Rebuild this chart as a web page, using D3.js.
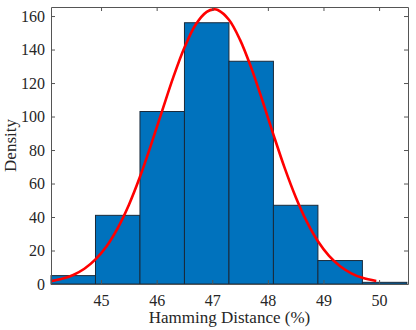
<!DOCTYPE html>
<html>
<head>
<meta charset="utf-8">
<script src="https://cdn.jsdelivr.net/npm/d3@7"></script>
<style>
  body { margin: 0; background: #fff; }
  svg text { font-family: "Liberation Serif", "DejaVu Serif", serif; fill: #262626; }
</style>
</head>
<body>
<div id="chart"></div>
<script>
// Histogram bins (edges) and densities
const binEdges = [44.1, 44.9, 45.7, 46.5, 47.3, 48.1, 48.9, 49.7, 50.5];
const binValues = [5, 41, 103, 156, 133, 47, 14, 1];

// Fitted curve
const curveX = [44.1, 44.3, 44.5, 44.7, 44.9, 45.1, 45.3, 45.5, 45.7, 45.9, 46.1, 46.3, 46.5, 46.7, 46.9, 47.03,
  47.1, 47.3, 47.5, 47.7, 47.9, 48.1, 48.3, 48.5, 48.7, 48.9, 49.1, 49.3, 49.5, 49.7, 49.95];
const curveY = [1.7, 3.1, 5.4, 9.1, 14.7, 22.6, 33.4, 47.2, 64.0, 83.2, 103.5, 123.5, 141.2, 154.8, 162.5, 164,
  163.6, 157.8, 145.8, 129.2, 109.7, 89.2, 69.5, 52.0, 37.2, 25.5, 16.8, 10.6, 6.4, 3.7, 1.8];

const xTicks = [45, 46, 47, 48, 49, 50];
const yTicks = [0, 20, 40, 60, 80, 100, 120, 140, 160];

const W = 416, H = 330;
const margin = { top: 7, right: 8, bottom: 46, left: 51 };
const width = W - margin.left - margin.right;
const height = H - margin.top - margin.bottom;

const svg = d3.select("#chart")
  .append("svg")
  .attr("width", W)
  .attr("height", H);

const g = svg.append("g")
  .attr("transform", `translate(${margin.left},${margin.top})`);

const x = d3.scaleLinear().domain([44.1, 50.52]).range([0, width]);
const y = d3.scaleLinear().domain([0, 165.4]).range([height, 0]);

const bins = binValues.map((v, i) => ({ x0: binEdges[i], x1: binEdges[i + 1], v }));

// Bars
g.selectAll(".bar")
  .data(bins)
  .enter()
  .append("rect")
  .attr("class", "bar")
  .attr("x", d => x(d.x0))
  .attr("width", d => x(d.x1) - x(d.x0))
  .attr("y", d => y(d.v))
  .attr("height", d => y(0) - y(d.v))
  .style("fill", "#0072BD")
  .style("stroke", "#1a2a3a")
  .style("stroke-width", 1);

// Curve
const line = d3.line()
  .x((d, i) => x(curveX[i]))
  .y(d => y(d))
  .curve(d3.curveCatmullRom);

g.append("path")
  .datum(curveY)
  .attr("d", line)
  .style("fill", "none")
  .style("stroke", "#ff0000")
  .style("stroke-width", 2.6);

// Axes (ticks inside, box on)
const axisColor = "#555";
const tickLen = 4;
const fmt = d3.format("d");

const xAxis = g.append("g")
  .attr("transform", `translate(0,${height})`)
  .call(d3.axisBottom(x).tickValues(xTicks).tickFormat(fmt).tickSizeInner(-tickLen).tickSizeOuter(0).tickPadding(11));
const yAxis = g.append("g")
  .call(d3.axisLeft(y).tickValues(yTicks).tickFormat(fmt).tickSizeInner(-tickLen).tickSizeOuter(0).tickPadding(6));
const xTop = g.append("g")
  .call(d3.axisTop(x).tickValues(xTicks).tickSizeInner(-tickLen).tickSizeOuter(0).tickFormat(""));
const yRight = g.append("g")
  .attr("transform", `translate(${width},0)`)
  .call(d3.axisRight(y).tickValues(yTicks).tickSizeInner(-tickLen).tickSizeOuter(0).tickFormat(""));

[xAxis, yAxis, xTop, yRight].forEach(a => {
  a.attr("font-family", "Liberation Serif").attr("font-size", 16);
  a.selectAll("line").style("stroke", axisColor);
  a.select(".domain").style("stroke", axisColor);
  a.selectAll("text")
    .attr("font-family", "Liberation Serif")
    .style("font-family", null)
    .style("font-size", "16px")
    .style("fill", "#262626");
});

// Labels
svg.append("text")
  .attr("x", margin.left + width / 2)
  .attr("y", 323)
  .attr("text-anchor", "middle")
  .style("font-size", "17px")
  .text("Hamming Distance (%)");

svg.append("text")
  .attr("transform", `translate(16,${margin.top + height / 2}) rotate(-90)`)
  .attr("text-anchor", "middle")
  .style("font-size", "17px")
  .text("Density");
</script>
</body>
</html>
